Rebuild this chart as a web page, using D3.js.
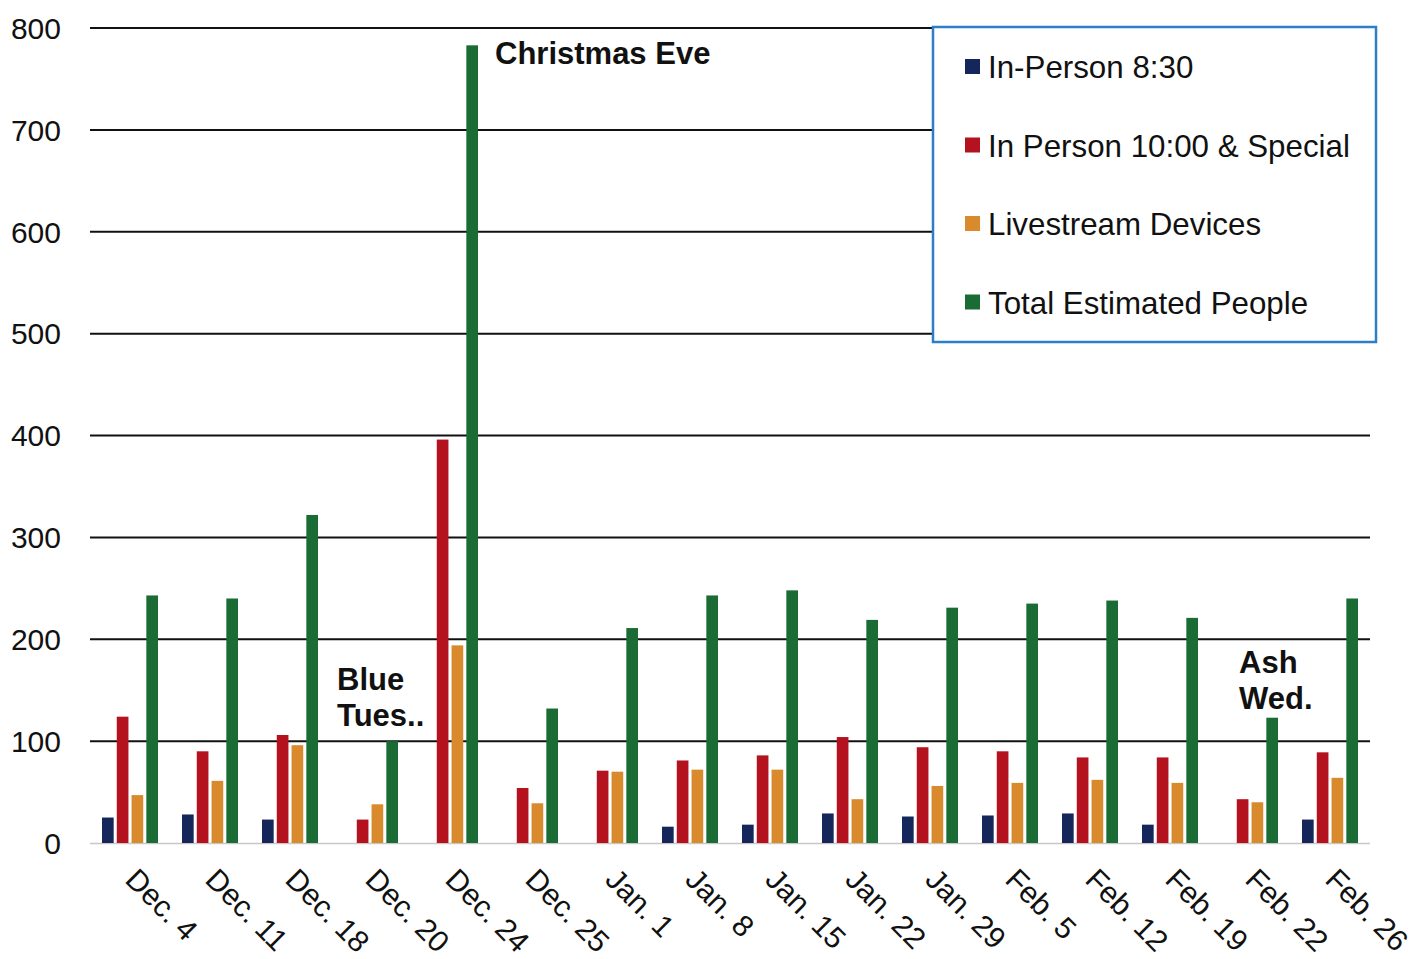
<!DOCTYPE html>
<html><head><meta charset="utf-8">
<script src="https://cdn.jsdelivr.net/npm/d3@7"></script>
<style>body{margin:0;background:#fff}svg{display:block}text{font-family:"Liberation Sans",Arial,sans-serif}</style>
</head><body><svg id="c" width="1427" height="959"></svg>
<script>
const categories = ["Dec. 4","Dec. 11","Dec. 18","Dec. 20","Dec. 24","Dec. 25","Jan. 1","Jan. 8","Jan. 15","Jan. 22","Jan. 29","Feb. 5","Feb. 12","Feb. 19","Feb. 22","Feb. 26"];
const seriesNames = ["In-Person 8:30","In Person 10:00 & Special","Livestream Devices","Total Estimated People"];
const inPerson830 = [25,28,23,0,0,0,0,16,18,29,26,27,29,18,0,23];
const inPerson1000 = [124,90,106,23,396,54,71,81,86,104,94,90,84,84,43,89];
const livestream = [47,61,96,38,194,39,70,72,72,43,56,59,62,59,40,64];
const totalPeople = [243,240,322,100,783,132,211,243,248,219,231,235,238,221,123,240];
const yTicks = [0,100,200,300,400,500,600,700,800];
const colors = ["#15275a","#b3121e","#d98a2c","#1b6b34"];
const annotations = [
  {cat:"Dec. 24", lines:["Christmas Eve"], dx:45, value:776},
  {cat:"Dec. 20", lines:["Blue","Tues.."], dx:-33, value:161},
  {cat:"Feb. 22", lines:["Ash","Wed."], dx:-11, value:178}
];

const svg = d3.select("#c");
const x0 = d3.scaleBand().domain(categories).range([90,1370]).paddingInner(0.30).paddingOuter(0.15);
const x1 = d3.scaleBand().domain(seriesNames).range([0,x0.bandwidth()]).paddingInner(0.21);
const y = d3.scaleLinear().domain([0,800]).range([843,28]);
const allSeries = [inPerson830,inPerson1000,livestream,totalPeople];

// gridlines
svg.append("g").selectAll("line").data(yTicks.filter(d=>d>0)).join("line")
  .attr("x1",90).attr("x2",1370).attr("y1",d=>y(d)).attr("y2",d=>y(d))
  .attr("stroke","#111").attr("stroke-width",2);
svg.append("line").attr("x1",90).attr("x2",1370).attr("y1",y(0)+0.5).attr("y2",y(0)+0.5)
  .attr("stroke","#c8c8c8").attr("stroke-width",1.5);

// y labels
svg.append("g").selectAll("text").data(yTicks).join("text")
  .attr("x",61).attr("y",d=>y(d)).attr("dy","0.36em").attr("text-anchor","end")
  .attr("font-size",30).attr("fill","#111").text(d=>d);

// bars
const g = svg.append("g");
categories.forEach((c,i)=>{
  allSeries.forEach((s,j)=>{
    const v = s[i];
    if(!v) return;
    g.append("rect").attr("x",x0(c)+x1(seriesNames[j])).attr("width",x1.bandwidth())
      .attr("y",y(v)).attr("height",y(0)-y(v)).attr("fill",colors[j]);
  });
});

// x labels
svg.append("g").selectAll("text").data(categories).join("text")
  .attr("transform",d=>`translate(${x0(d)+x0.bandwidth()/2+9},${866}) rotate(45)`)
  .attr("text-anchor","start").attr("dy","0.72em")
  .attr("font-size",30).attr("fill","#111").text(d=>d);

// annotations
annotations.forEach(a=>{
  const t = svg.append("text").attr("font-size",31).attr("font-weight","bold").attr("fill","#111");
  a.lines.forEach((l,k)=>{
    t.append("tspan").attr("x",x0(a.cat)+x0.bandwidth()/2+a.dx).attr("y",y(a.value)+k*36)
      .attr("dy","0.36em").text(l);
  });
});

// legend
const lg = svg.append("g");
lg.append("rect").attr("x",933).attr("y",27).attr("width",443).attr("height",315)
  .attr("fill","#fff").attr("stroke","#2a7fc8").attr("stroke-width",2.5);
seriesNames.forEach((n,j)=>{
  const cy = 67 + j*78.5;
  lg.append("rect").attr("x",965).attr("y",cy-8).attr("width",15).attr("height",15).attr("fill",colors[j]);
  lg.append("text").attr("x",988).attr("y",cy).attr("dy","0.36em").attr("font-size",31.3).attr("fill","#111").text(n);
});
</script></body></html>
